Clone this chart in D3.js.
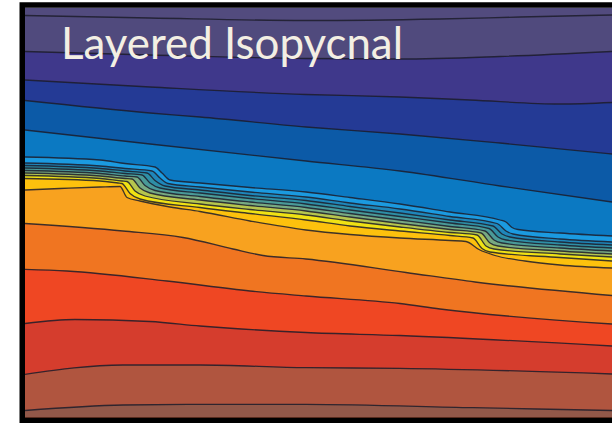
<!DOCTYPE html>
<html>
<head>
<meta charset="utf-8">
<script src="https://cdn.jsdelivr.net/npm/d3@7/dist/d3.min.js"></script>
<style>
  html, body { margin: 0; padding: 0; background: #ffffff; }
  svg { display: block; }
</style>
</head>
<body>
<svg id="chart" width="612" height="423"></svg>
<script>
// Section extent: along-section distance (km) and depth (m)
const distanceExtent = [0, 587];
const depthExtent = [0, 4100];

// Isopycnal interfaces, top to bottom: [distance km, depth m]
const iface1 = [[0,80],[125,105],[281,130],[415,115],[495,95],[587,75]];
const iface2 = [[0,440],[125,475],[281,510],[375,515],[475,490],[587,440]];
const iface3 = [[0,725],[125,795],[281,870],[375,895],[445,925],[535,965],[587,950]];
const iface4 = [[0,930],[125,1055],[175,1095],[281,1195],[375,1265],[475,1355],[587,1465]];
const iface5 = [[0,1225],[125,1365],[281,1535],[375,1635],[475,1785],[587,1945]];

// Thermocline stack (thin layers crowded above the warm water)
const thermoTop = [[0,1495],[75,1525],[100,1560],[130,1595],[137,1655],[145,1725],[175,1755],[225,1800],[281,1845],[325,1900],[375,1965],[425,2045],[475,2125],[481,2145],[487,2200],[493,2220],[535,2255],[587,2285]];
const thermo1 = [[0,1555],[75,1585],[100,1610],[127,1635],[135,1705],[143,1760],[175,1795],[225,1845],[281,1895],[325,1955],[375,2015],[425,2090],[472,2160],[481,2235],[488,2265],[535,2315],[587,2345]];
const thermo2 = [[0,1580],[75,1610],[100,1635],[122,1655],[130,1730],[140,1785],[175,1825],[225,1880],[281,1930],[325,1990],[375,2055],[425,2125],[468,2185],[477,2265],[485,2295],[535,2345],[587,2375]];
const thermo3 = [[0,1605],[75,1635],[100,1660],[117,1675],[125,1755],[135,1805],[175,1855],[225,1910],[281,1965],[325,2025],[375,2090],[425,2155],[464,2210],[473,2295],[481,2325],[535,2375],[587,2405]];
const thermo4 = [[0,1630],[75,1660],[100,1685],[112,1695],[120,1780],[130,1830],[175,1890],[225,1945],[281,2000],[325,2060],[375,2125],[425,2190],[460,2235],[469,2325],[477,2355],[535,2405],[587,2435]];
const thermo5 = [[0,1655],[75,1685],[100,1710],[107,1715],[115,1805],[125,1855],[175,1925],[225,1980],[281,2035],[325,2095],[375,2160],[425,2220],[456,2255],[465,2355],[473,2385],[535,2435],[587,2465]];
const thermo6 = [[0,1680],[75,1710],[97,1735],[102,1740],[110,1835],[120,1885],[175,1965],[225,2020],[281,2075],[325,2135],[375,2195],[425,2250],[452,2275],[461,2385],[469,2415],[535,2465],[587,2495]];
const thermo7 = [[0,1710],[75,1735],[93,1755],[97,1760],[105,1860],[115,1915],[175,2000],[225,2060],[281,2125],[325,2185],[375,2235],[425,2280],[448,2305],[457,2410],[465,2445],[535,2500],[587,2535]];
const warmTop = [[0,1825],[35,1810],[75,1795],[95,1790],[102,1900],[115,1935],[145,1995],[175,2040],[225,2135],[281,2225],[325,2270],[375,2305],[425,2330],[441,2340],[454,2420],[470,2480],[500,2535],[535,2575],[587,2605]];

// Deep interfaces
const iface6 = [[0,2160],[98,2235],[158,2300],[208,2415],[238,2480],[281,2515],[381,2650],[450,2745],[587,2880]];
const iface7 = [[0,2618],[42,2635],[142,2735],[225,2835],[281,2885],[375,2960],[415,3015],[587,3165]];
const iface8 = [[0,3160],[50,3120],[125,3140],[175,3185],[281,3250],[375,3280],[587,3385]];
const iface9 = [[0,3668],[98,3575],[175,3575],[281,3602],[375,3608],[587,3665]];
const iface10 = [[0,4030],[98,3975],[175,3968],[281,3968],[448,4002],[587,4030]];

const interfaces = [iface1, iface2, iface3, iface4, iface5,
  thermoTop, thermo1, thermo2, thermo3, thermo4, thermo5, thermo6, thermo7, warmTop,
  iface6, iface7, iface8, iface9, iface10];

// Layer colours: the surface layer, then the layer below each interface
const surfaceColor = "#524b7e";
const layerColors = ["#504a7d", "#3f388b", "#243a95", "#0c5aa7", "#0b79c2",
  "#1b9ae0", "#1f87ba", "#2e8fa6", "#4a9a98", "#78aa82", "#b6c64e", "#f0e214", "#fdc10d",
  "#f8a21f", "#f07521", "#ef4723", "#d53d2d", "#b0553f", "#925849"];

const titleText = "Layered Isopycnal";

const svg = d3.select("#chart");
const plot = { left: 25, top: 7.5, right: 612, bottom: 417.5 };

const x = d3.scaleLinear().domain(distanceExtent).range([plot.left, plot.right]);
const y = d3.scaleLinear().domain(depthExtent).range([plot.top, plot.bottom]);

svg.append("defs").append("clipPath").attr("id", "plotClip")
  .append("rect")
  .attr("x", plot.left).attr("y", plot.top)
  .attr("width", plot.right - plot.left).attr("height", plot.bottom - plot.top);

const g = svg.append("g").attr("clip-path", "url(#plotClip)");

// surface layer
g.append("rect")
  .attr("x", x(distanceExtent[0])).attr("y", y(depthExtent[0]))
  .attr("width", x(distanceExtent[1]) - x(distanceExtent[0]))
  .attr("height", y(depthExtent[1]) - y(depthExtent[0]))
  .attr("fill", surfaceColor);

const curve = d3.curveMonotoneX;

// each layer fills from its upper interface down to the floor, painted top to bottom
const area = d3.area()
  .curve(curve)
  .x(d => x(d[0]))
  .y0(y(depthExtent[1]) + 2)
  .y1(d => y(d[1]));

g.selectAll("path.layer")
  .data(interfaces)
  .join("path")
  .attr("class", "layer")
  .attr("d", area)
  .attr("fill", (d, i) => layerColors[i]);

const line = d3.line().curve(curve).x(d => x(d[0])).y(d => y(d[1]));

g.selectAll("path.iface")
  .data(interfaces)
  .join("path")
  .attr("class", "iface")
  .attr("d", line)
  .attr("fill", "none")
  .attr("stroke", "#1c1c2a")
  .attr("stroke-opacity", 0.85)
  .attr("stroke-width", 1.3);

// frame
svg.append("rect")
  .attr("x", plot.left - 2.75).attr("y", plot.top - 2.5)
  .attr("width", 700).attr("height", plot.bottom - plot.top + 5.25)
  .attr("fill", "none")
  .attr("stroke", "#000")
  .attr("stroke-width", 5.5);

// title
const title = svg.append("text")
  .attr("x", 61)
  .attr("y", 58.5)
  .attr("fill", "#f3efe3")
  .style("font-family", "Lato, 'Open Sans', sans-serif")
  .style("font-size", "43px")
  .text(titleText);
const w = title.node().getComputedTextLength();
title.style("font-size", (43 * 342 / w).toFixed(2) + "px");
</script>
</body>
</html>
